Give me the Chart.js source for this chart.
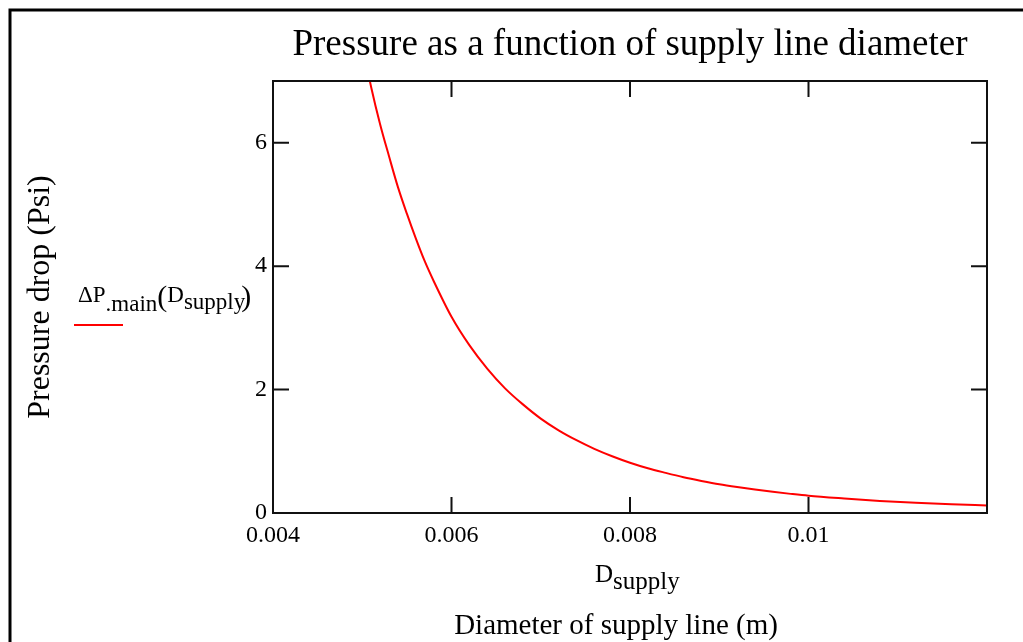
<!DOCTYPE html>
<html>
<head>
<meta charset="utf-8">
<script src="https://cdn.jsdelivr.net/npm/chart.js@4.4.0/dist/chart.umd.min.js"></script>
<style>
  html, body { margin: 0; padding: 0; background: #fff; }
</style>
</head>
<body>
<canvas id="pressure-chart" width="1023" height="642"></canvas>
<script>
// supply line diameter (m) and pressure drop (psi)
const diameters = [
  0.0050, 0.0051, 0.0052, 0.0053, 0.0054, 0.0055, 0.0056, 0.0057, 0.0058,
  0.0060, 0.0062, 0.0064, 0.0066, 0.0068, 0.0070, 0.0072, 0.0074,
  0.0076, 0.0078, 0.0080, 0.0082, 0.0084, 0.0086, 0.0088, 0.0090,
  0.0092, 0.0094, 0.0096, 0.0098, 0.0100, 0.0104, 0.0108, 0.0112,
  0.0116, 0.0120,
];
const pressureDrop = [
  7.6, 6.9, 6.3, 5.78, 5.28, 4.85, 4.45, 4.08, 3.76,
  3.18, 2.72, 2.34, 2.02, 1.76, 1.53, 1.34, 1.18,
  1.04, 0.92, 0.815, 0.725, 0.65, 0.58, 0.52, 0.465,
  0.42, 0.38, 0.343, 0.31, 0.28, 0.235, 0.195, 0.165,
  0.14, 0.123,
];
const xTicks = [0.004, 0.006, 0.008, 0.01];
const yTicks = [0, 2, 4, 6];
const xRange = [0.004, 0.012];
const yRange = [0, 7];

const SERIF = '"Liberation Serif", "Times New Roman", serif';

// draws a run of text pieces left to right, each with its own size and baseline shift
function drawRun(ctx, x, y, parts) {
  ctx.textAlign = 'left';
  ctx.textBaseline = 'alphabetic';
  parts.forEach((p) => {
    ctx.font = p.size + 'px ' + SERIF;
    ctx.fillText(p.text, x, y + (p.dy || 0));
    x += ctx.measureText(p.text).width + (p.gap || 0);
  });
}

const decorations = {
  id: 'decorations',
  afterDraw(chart) {
    const { ctx, chartArea: area, scales: { x, y } } = chart;
    ctx.save();

    // page frame
    ctx.strokeStyle = '#000';
    ctx.lineWidth = 3;
    ctx.beginPath();
    ctx.moveTo(10, 642);
    ctx.lineTo(10, 10);
    ctx.lineTo(1023, 10);
    ctx.stroke();

    // plot box
    ctx.strokeStyle = '#111';
    ctx.lineWidth = 2;
    ctx.strokeRect(area.left, area.top, area.right - area.left, area.bottom - area.top);

    // inward ticks on all four sides
    const len = 16;
    ctx.beginPath();
    xTicks.forEach((v) => {
      const px = x.getPixelForValue(v);
      ctx.moveTo(px, area.bottom);
      ctx.lineTo(px, area.bottom - len);
      ctx.moveTo(px, area.top);
      ctx.lineTo(px, area.top + len);
    });
    yTicks.forEach((v) => {
      const py = y.getPixelForValue(v);
      ctx.moveTo(area.left, py);
      ctx.lineTo(area.left + len, py);
      ctx.moveTo(area.right, py);
      ctx.lineTo(area.right - len, py);
    });
    ctx.stroke();

    ctx.fillStyle = '#000';

    // title
    ctx.font = '37px ' + SERIF;
    ctx.textAlign = 'center';
    ctx.textBaseline = 'middle';
    ctx.fillText('Pressure as a function of supply line diameter', (area.left + area.right) / 2, 45);

    // x axis captions
    ctx.font = '29px ' + SERIF;
    ctx.fillText('Diameter of supply line (m)', 616, 626);
    drawRun(ctx, 595, 582, [
      { text: 'D', size: 25 },
      { text: 'supply', size: 25, dy: 7 },
    ]);

    // legend
    drawRun(ctx, 78, 302, [
      { text: '\u0394P', size: 23 },
      { text: '.main', size: 23, dy: 9 },
      { text: '(', size: 30, dy: 4 },
      { text: 'D', size: 23 },
      { text: 'supply', size: 23, dy: 7, gap: -4 },
      { text: ')', size: 30, dy: 4 },
    ]);
    ctx.strokeStyle = '#ff0000';
    ctx.lineWidth = 2;
    ctx.beginPath();
    ctx.moveTo(74, 325);
    ctx.lineTo(123, 325);
    ctx.stroke();

    ctx.restore();
  },
};

new Chart(document.getElementById('pressure-chart'), {
  type: 'line',
  data: {
    datasets: [
      {
        data: diameters.map((d, i) => ({ x: d, y: pressureDrop[i] })),
        borderColor: '#ff0000',
        borderWidth: 2,
        pointRadius: 0,
        fill: false,
        cubicInterpolationMode: 'monotone',
        clip: 0,
      },
    ],
  },
  options: {
    responsive: false,
    animation: false,
    devicePixelRatio: 1,
    layout: {
      padding: { left: 0, top: 81, right: 36, bottom: 0 },
    },
    plugins: {
      legend: { display: false },
      tooltip: { enabled: false },
    },
    scales: {
      x: {
        type: 'linear',
        min: xRange[0],
        max: xRange[1],
        afterBuildTicks: (scale) => {
          scale.ticks = xTicks.map((value) => ({ value }));
        },
        afterFit: (scale) => {
          scale.height = 129;
        },
        grid: { drawOnChartArea: false, drawTicks: false },
        border: { display: false },
        ticks: {
          color: '#000',
          font: { family: SERIF, size: 24 },
          padding: 8,
          maxRotation: 0,
          autoSkip: false,
          callback: (v) => String(v),
        },
      },
      y: {
        type: 'linear',
        min: yRange[0],
        max: yRange[1],
        afterBuildTicks: (scale) => {
          scale.ticks = yTicks.map((value) => ({ value }));
        },
        afterFit: (scale) => {
          scale.width = 273;
        },
        grid: { drawOnChartArea: false, drawTicks: false },
        border: { display: false },
        ticks: {
          color: '#000',
          font: { family: SERIF, size: 24 },
          padding: 6,
          callback: (v) => String(v),
        },
        title: {
          display: true,
          text: 'Pressure drop (Psi)',
          color: '#000',
          font: { family: SERIF, size: 32 },
          padding: { top: 21, bottom: 0 },
        },
      },
    },
  },
  plugins: [decorations],
});
</script>
</body>
</html>
